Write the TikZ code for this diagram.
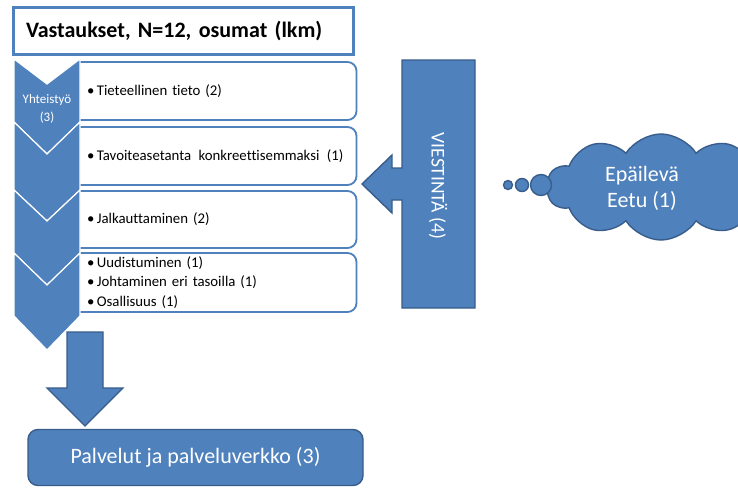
\documentclass[tikz,border=0pt]{standalone}
\usepackage{fontspec}
\setmainfont{Carlito}[Ligatures=NoCommon]
\usetikzlibrary{shapes.symbols}
\definecolor{accent}{HTML}{4F81BD}
\definecolor{accentdark}{HTML}{385D8A}
\newcommand{\itembullet}{\hspace*{9pt}\textbullet\,}
\begin{document}
\begin{tikzpicture}[x=1pt,y=-1pt,
  itembox/.style={draw=accent, line width=1.8pt, fill=white, rounded corners=9pt,
    minimum width=285pt, text width=272pt, align=left, inner sep=0pt,
    font=\fontsize{14.8}{19.5}\selectfont},
  chev/.style={fill=accent, draw=white, line width=1.2pt, line join=miter},
  block/.style={fill=accent, draw=accentdark, line width=1.4pt, line join=miter},
  whitetext/.style={text=white, inner sep=0pt, align=center},
  bubble/.style={circle, fill=accent, draw=accentdark, line width=1.4pt, inner sep=0pt},
]
\clip (0,0) rectangle (738,487);
\fill[white] (0,0) rectangle (738,487);

% list items
\node[itembox, minimum height=58pt] (item1) at (214,91) {\itembullet Tieteellinen tieto (2)};
\node[itembox, minimum height=58pt] (item2) at (214,156) {\itembullet Tavoiteasetanta\ \,konkreettisemmaksi\ \,(1)};
\node[itembox, minimum height=57pt] (item3) at (214,219.5) {\itembullet Jalkauttaminen (2)};
\node[itembox, minimum height=59pt] (item4) at (214,282.5) {\itembullet Uudistuminen (1)\\ \itembullet Johtaminen eri tasoilla (1)\\ \itembullet Osallisuus (1)};

% chevron column
\draw[chev] (14,59) -- (47,84) -- (80,59) -- (80,122) -- (47,154) -- (14,122) -- cycle;
\draw[chev] (14,122) -- (47,154) -- (80,122) -- (80,190) -- (47,221) -- (14,190) -- cycle;
\draw[chev] (14,190) -- (47,221) -- (80,190) -- (80,253) -- (47,285) -- (14,253) -- cycle;
\draw[chev] (14,253) -- (47,285) -- (80,253) -- (80,316) -- (47,350) -- (14,316) -- cycle;
\node[whitetext, font=\fontsize{13}{18}\selectfont] (coop) at (47,109) {Yhteistyö\\(3)};

% heading
\node[draw=accent, line width=3pt, fill=white, minimum width=340pt, minimum height=47pt,
  text width=314pt, align=left, inner sep=0pt, font=\fontsize{22}{26}\selectfont\bfseries]
  (head) at (183,31) {Vastaukset, N=12, osumat (lkm)};

% communication callout
\draw[block] (402,60) -- (475,60) -- (475,308) -- (402,308) -- (402,200) -- (392,200)
  -- (392,213) -- (362,184) -- (392,155) -- (392,168) -- (402,168) -- cycle;
\node[whitetext, rotate=-90, font=\fontsize{19.5}{22}\selectfont] (comm) at (438,186) {VIESTINTÄ (4)};

% thought cloud
\node[cloud, cloud puffs=10, cloud puff arc=115, aspect=2.1, fill=accent, draw=accentdark,
  line width=1.4pt, minimum width=228pt, minimum height=106pt, inner sep=0pt] (doubt) at (661,187) {};
\node[whitetext, font=\fontsize{22}{26}\selectfont] (doubtlabel) at (642,188) {Epäilevä\\Eetu (1)};
\node[bubble, minimum size=9pt] (d1) at (508,185) {};
\node[bubble, minimum size=13pt] (d2) at (522,185) {};
\node[bubble, minimum size=21pt] (d3) at (541,185) {};

% downward arrow
\draw[block] (67,332) -- (103,332) -- (103,388) -- (123,388) -- (85,426) -- (47,388)
  -- (67,388) -- cycle;

% services
\node[block, rounded corners=10pt, minimum width=335pt, minimum height=56pt, text=white,
  font=\fontsize{22}{26}\selectfont] (services) at (195.5,457.5) {Palvelut ja palveluverkko (3)};
\end{tikzpicture}
\end{document}
